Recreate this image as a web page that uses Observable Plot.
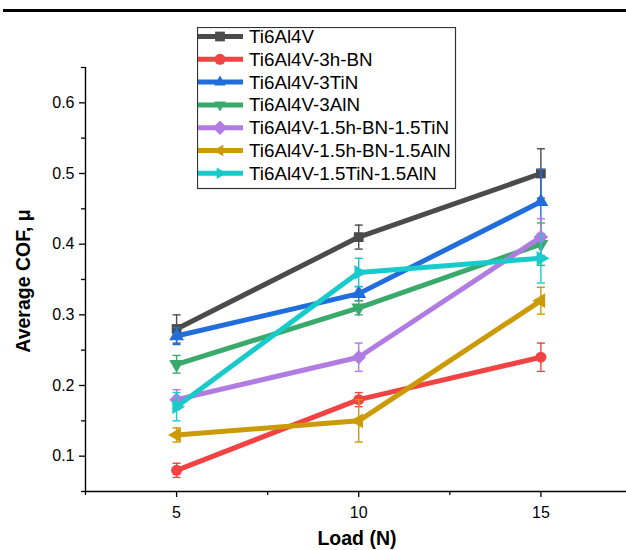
<!DOCTYPE html>
<html><head><meta charset="utf-8">
<script src="https://cdn.jsdelivr.net/npm/d3@7"></script>
<script src="https://cdn.jsdelivr.net/npm/@observablehq/plot@0.6"></script>
<style>
body{margin:0;background:#fff;}
#wrap{position:relative;width:626px;height:550px;overflow:hidden;background:#fff;}
#topline{position:absolute;left:3px;top:9px;right:0;height:3px;background:#000;}
#legend{position:absolute;left:197px;top:27px;}
</style></head><body>
<div id="wrap"><div id="chart"></div><div id="topline"></div><svg id="legend" width="261" height="163"></svg></div>
<script>
const loads = [5, 10, 15];
const seriesNames = ["Ti6Al4V", "Ti6Al4V-3h-BN", "Ti6Al4V-3TiN", "Ti6Al4V-3AlN",
  "Ti6Al4V-1.5h-BN-1.5TiN", "Ti6Al4V-1.5h-BN-1.5AlN", "Ti6Al4V-1.5TiN-1.5AlN"];
const seriesColors = ["#4b4b4b", "#f04343", "#1f6edc", "#3aa96c", "#b07ce2", "#cc9a05", "#18caca"];
const seriesSymbols = ["square", "circle", "triangle", "triangle", "diamond2", "triangle", "triangle"];
const seriesRotate = [0, 0, 0, 180, 0, -90, 90];

const cofTi6Al4V = [0.28, 0.41, 0.50];
const errTi6Al4V = [0.02, 0.017, 0.035];
const cof3hBN = [0.08, 0.18, 0.24];
const err3hBN = [0.01, 0.01, 0.02];
const cof3TiN = [0.27, 0.33, 0.46];
const err3TiN = [0.012, 0.01, 0.046];
const cof3AlN = [0.23, 0.31, 0.40];
const err3AlN = [0.0125, 0.01, 0.03];
const cofBNTiN = [0.18, 0.24, 0.41];
const errBNTiN = [0.014, 0.02, 0.026];
const cofBNAlN = [0.13, 0.15, 0.32];
const errBNAlN = [0.01, 0.03, 0.019];
const cofTiNAlN = [0.17, 0.36, 0.38];
const errTiNAlN = [0.02, 0.02, 0.035];

const cofSeries = [cofTi6Al4V, cof3hBN, cof3TiN, cof3AlN, cofBNTiN, cofBNAlN, cofTiNAlN];
const errSeries = [errTi6Al4V, err3hBN, err3TiN, err3AlN, errBNTiN, errBNAlN, errTiNAlN];

const yTicks = [0.1, 0.2, 0.3, 0.4, 0.5, 0.6];
const yMinorTicks = [0.05, 0.15, 0.25, 0.35, 0.45, 0.55, 0.65];
const xTicks = [5, 10, 15];
const xMinorTicks = [2.5, 7.5, 12.5];
const xDomain = [2.5, 17.35];
const yDomain = [0.05, 0.65];
const xTitle = "Load (N)";
const yTitle = "Average COF, μ";

const capSymbol = {draw(ctx, size) { const w = Math.sqrt(size / Math.PI); ctx.moveTo(-w, 0); ctx.lineTo(w, 0); }};

const seriesMarks = seriesNames.flatMap((name, i) => {
  const rows = loads.map((x, j) => ({x, y: cofSeries[i][j], lo: cofSeries[i][j] - errSeries[i][j], hi: cofSeries[i][j] + errSeries[i][j]}));
  const c = seriesColors[i];
  return [
    Plot.line(rows, {x: "x", y: "y", stroke: c, strokeWidth: 5}),
    Plot.ruleX(rows, {x: "x", y1: "lo", y2: "hi", stroke: c, strokeWidth: 1.4}),
    Plot.dot(rows, {x: "x", y: "lo", symbol: capSymbol, r: 4, stroke: c, strokeWidth: 1.4, fill: "none"}),
    Plot.dot(rows, {x: "x", y: "hi", symbol: capSymbol, r: 4, stroke: c, strokeWidth: 1.4, fill: "none"}),
    Plot.dot(rows, {x: "x", y: "y", symbol: seriesSymbols[i], rotate: seriesRotate[i], r: i === 4 ? 6.5 : 5.5, fill: c, stroke: "none"})
  ];
});

const chart = Plot.plot({
  width: 626, height: 550,
  marginLeft: 85, marginRight: 0, marginTop: 67, marginBottom: 59,
  x: {domain: xDomain},
  y: {domain: yDomain},
  style: {fontFamily: "'Liberation Sans', Arial, sans-serif", fontSize: "16px", color: "#000", background: "transparent"},
  marks: [
    Plot.axisY({ticks: yTicks, tickSize: 6, tickPadding: 5, tickFormat: d3.format(".1f"), label: null, strokeWidth: 1.3}),
    Plot.axisY({ticks: yMinorTicks, tickSize: 4, text: null, label: null, strokeWidth: 1.3}),
    Plot.axisX({ticks: xTicks, tickSize: 6, tickPadding: 9, label: null, strokeWidth: 1.3}),
    Plot.axisX({ticks: xMinorTicks, tickSize: 4, text: null, label: null, strokeWidth: 1.3}),
    Plot.ruleX([xDomain[0]], {y1: yDomain[0], y2: yDomain[1], stroke: "#000", strokeWidth: 1.4}),
    Plot.ruleY([yDomain[0]], {x1: xDomain[0], x2: xDomain[1], stroke: "#000", strokeWidth: 1.4}),
    ...seriesMarks
  ]
});
document.getElementById("chart").appendChild(chart);

// axis titles
const svg = d3.select(chart);
svg.append("text").attr("transform", "translate(23,281) rotate(-90)")
  .attr("text-anchor", "middle").attr("dy", "0.35em")
  .attr("font-family", "'Liberation Sans', Arial, sans-serif").attr("font-size", 19.5).attr("font-weight", "bold")
  .attr("fill", "#000").text(yTitle);
svg.append("text").attr("x", 357).attr("y", 538)
  .attr("text-anchor", "middle").attr("dy", "0.35em")
  .attr("font-family", "'Liberation Sans', Arial, sans-serif").attr("font-size", 19.5).attr("font-weight", "bold")
  .attr("fill", "#000").text(xTitle);

// legend
const leg = d3.select("#legend");
leg.append("rect").attr("x", 0.5).attr("y", 0.5).attr("width", 258).attr("height", 161)
  .attr("fill", "#fff").attr("stroke", "#333").attr("stroke-width", 1.2);
const symMap = {square: d3.symbolSquare, circle: d3.symbolCircle, triangle: d3.symbolTriangle2, diamond2: d3.symbolDiamond2};
seriesNames.forEach((name, i) => {
  const cy = 9.5 + i * 22.8;
  const g = leg.append("g").attr("transform", `translate(0,${cy})`);
  g.append("line").attr("x1", 1).attr("x2", 46).attr("y1", 0).attr("y2", 0)
    .attr("stroke", seriesColors[i]).attr("stroke-width", 5);
  const r = i === 4 ? 6.5 : 5.5;
  g.append("path").attr("d", d3.symbol(symMap[seriesSymbols[i]], Math.PI * r * r)())
    .attr("transform", `translate(23,0) rotate(${seriesRotate[i]})`).attr("fill", seriesColors[i]);
  g.append("text").attr("x", 52).attr("y", 0).attr("dy", "0.35em")
    .attr("font-family", "'Liberation Sans', Arial, sans-serif").attr("font-size", 18.8).text(name);
});
</script>
</body></html>
